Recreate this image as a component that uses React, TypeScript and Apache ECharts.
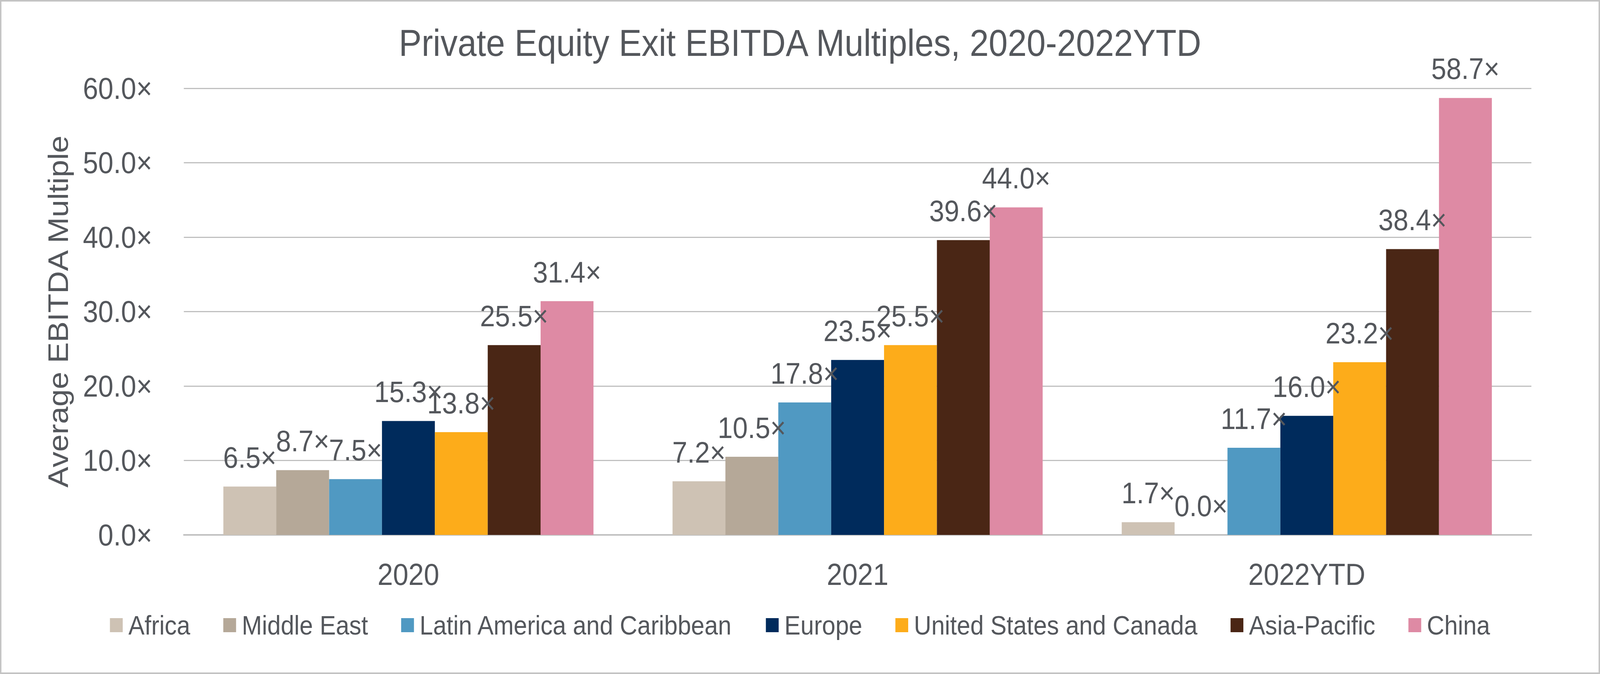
import React, { useEffect, useRef } from "react";
import * as echarts from "echarts";

const categories = ["2020", "2021", "2022YTD"];
const seriesNames = [
  "Africa",
  "Middle East",
  "Latin America and Caribbean",
  "Europe",
  "United States and Canada",
  "Asia-Pacific",
  "China",
];
const africa = [6.5, 7.2, 1.7];
const middleEast = [8.7, 10.5, 0.0];
const latinAmerica = [7.5, 17.8, 11.7];
const europe = [15.3, 23.5, 16.0];
const usCanada = [13.8, 25.5, 23.2];
const asiaPacific = [25.5, 39.6, 38.4];
const china = [31.4, 44.0, 58.7];
const seriesValues = [africa, middleEast, latinAmerica, europe, usCanada, asiaPacific, china];
const colors = ["#CEC2B4", "#B5A898", "#5099C2", "#002B5C", "#FDAC1A", "#4A2615", "#DE8AA4"];

const titleText = "Private Equity Exit EBITDA Multiples, 2020-2022YTD";
const yAxisTitle = "Average EBITDA Multiple";

const FONT = '"Liberation Sans", Arial, sans-serif';
const TEXT = "#54575C";
const GRID = "#C0C0C0";

const BASE_W = 4500;
const BASE_H = 1725;

export default function App() {
  const ref = useRef<HTMLDivElement>(null);
  const vw = typeof window !== "undefined" ? window.innerWidth : BASE_W;
  const vh = typeof window !== "undefined" ? window.innerHeight : BASE_H;
  const sx = vw / BASE_W;
  const sy = vh / BASE_H;

  useEffect(() => {
    document.body.style.margin = "0";
    document.documentElement.style.overflow = "hidden";
    const chart = echarts.init(ref.current!, null, { renderer: "svg" });
    chart.setOption({
      animation: false,
      backgroundColor: "#FFFFFF",
      textStyle: { fontFamily: FONT, color: TEXT },
      title: {
        text: titleText,
        left: "center",
        top: 62,
        padding: 0,
        textStyle: { fontFamily: FONT, color: TEXT, fontSize: 96, fontWeight: "normal" },
      },
      legend: {
        data: seriesNames,
        left: "center",
        top: 1566,
        padding: 0,
        icon: "rect",
        itemWidth: 36,
        itemHeight: 36,
        itemGap: 93,
        textStyle: { fontFamily: FONT, color: TEXT, fontSize: 68, padding: [0, 0, 0, 11] },
      },
      grid: {
        left: 517,
        right: 193,
        top: 226,
        bottom: 356,
        containLabel: false,
        outerBoundsMode: "none",
      },
      xAxis: {
        type: "category",
        data: categories,
        axisLine: { show: true, lineStyle: { color: GRID, width: 4 } },
        axisTick: { show: false },
        axisLabel: { margin: 62, fontSize: 78, color: TEXT, fontFamily: FONT },
      },
      yAxis: {
        type: "value",
        min: 0,
        max: 60,
        interval: 10,
        name: yAxisTitle,
        nameLocation: "middle",
        nameGap: 314,
        nameTextStyle: { fontSize: 80, color: TEXT, fontFamily: FONT },
        axisLine: { show: false },
        axisTick: { show: false },
        splitLine: { show: true, lineStyle: { color: GRID, width: 3 } },
        axisLabel: {
          margin: 89,
          fontSize: 77,
          color: TEXT,
          fontFamily: FONT,
          formatter: (v: number) => v.toFixed(1) + "×",
        },
      },
      graphic: [
        {
          type: "rect",
          shape: { x: 2, y: 2, width: BASE_W - 4, height: BASE_H - 4 },
          style: { fill: "none", stroke: "#C4C4C4", lineWidth: 4 },
          silent: true,
        },
      ],
      series: seriesNames.map((name, i) => ({
        name,
        type: "bar",
        data: seriesValues[i],
        barGap: "0%",
        barCategoryGap: "17.6%",
        itemStyle: { color: colors[i] },
        label: {
          show: true,
          position: "top",
          distance: 37,
          fontSize: 76,
          color: TEXT,
          fontFamily: FONT,
          formatter: (p: any) => Number(p.value).toFixed(1) + "×",
        },
      })),
    });
    return () => chart.dispose();
  }, []);

  return (
    <div
      style={{
        position: "fixed",
        left: 0,
        top: 0,
        width: "100vw",
        height: "100vh",
        overflow: "hidden",
        background: "#FFFFFF",
      }}
    >
      <div
        ref={ref}
        style={{
          width: BASE_W,
          height: BASE_H,
          transform: `scale(${sx}, ${sy})`,
          transformOrigin: "0 0",
        }}
      />
    </div>
  );
}
